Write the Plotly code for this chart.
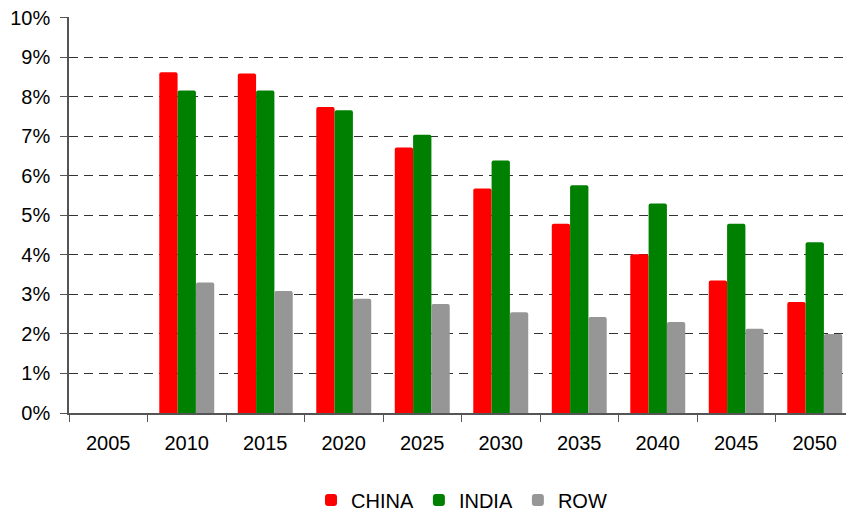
import plotly.graph_objects as go

years = ["2005", "2010", "2015", "2020", "2025", "2030", "2035", "2040", "2045", "2050"]
china = [None, 8.62, 8.59, 7.74, 6.72, 5.68, 4.79, 4.02, 3.35, 2.81]
india = [None, 8.16, 8.16, 7.66, 7.04, 6.39, 5.76, 5.30, 4.79, 4.32]
row = [None, 3.30, 3.09, 2.89, 2.76, 2.55, 2.43, 2.30, 2.13, 2.00]
y_ticks = [0, 1, 2, 3, 4, 5, 6, 7, 8, 9, 10]

series = [("CHINA", china, "#FF0000"), ("INDIA", india, "#008000"), ("ROW", row, "#969696")]

fig = go.Figure()
for name, vals, col in series:
    fig.add_trace(go.Bar(
        x=years, y=vals, name=name,
        marker=dict(color=col, line=dict(width=0), cornerradius=2),
    ))

font = dict(family="Liberation Sans, Arial, sans-serif", size=20, color="black")

fig.update_layout(
    width=854, height=514,
    margin=dict(l=61, r=8, t=9, b=109),
    paper_bgcolor="white", plot_bgcolor="white",
    font=font,
    barmode="group", bargap=0.3, bargroupgap=0,
    showlegend=True,
    legend=dict(orientation="h", x=0.5, xanchor="center",
                yref="container", y=0.043, yanchor="middle",
                font=font, itemwidth=30, traceorder="normal"),
    xaxis=dict(type="category", categoryorder="array", categoryarray=years,
               showline=True, linecolor="#555555", linewidth=1.5,
               ticks="outside", tickson="boundaries", ticklen=7, tickcolor="#555555",
               showgrid=False, tickfont=font, automargin=False,
               ticklabelstandoff=11),
    yaxis=dict(range=[0, 10.02], tickvals=y_ticks, ticktext=[f"{v}%" for v in y_ticks],
               showline=True, linecolor="#555555", linewidth=1.5,
               ticks="outside", ticklen=7, tickcolor="#555555",
               showgrid=True, gridcolor="#333333", griddash="9px,6px", gridwidth=1,
               zeroline=False, tickfont=font, ticklabelstandoff=6,
               ticklabeloverflow="allow", automargin=False),
)

fig.write_html("out.html")
